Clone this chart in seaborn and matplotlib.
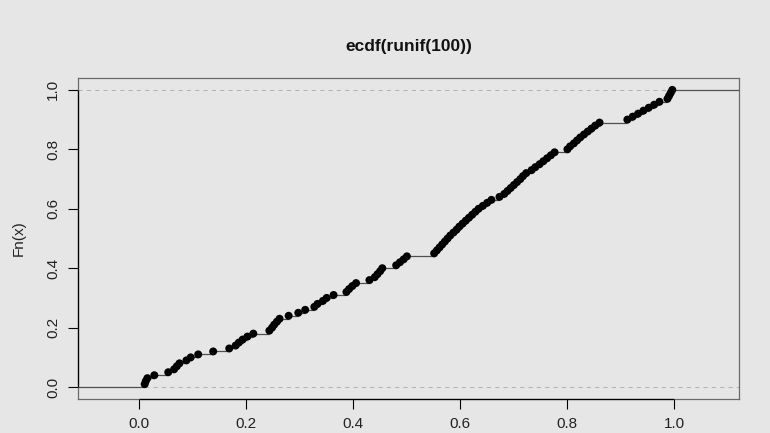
import numpy as np
import pandas as pd
import matplotlib
matplotlib.use("Agg")
import matplotlib.pyplot as plt
import seaborn as sns

# sorted sample values of the empirical CDF
sample = [
    0.010, 0.012, 0.015, 0.028, 0.054, 0.065, 0.070, 0.075, 0.088, 0.096,
    0.110, 0.138, 0.168, 0.180, 0.186, 0.193, 0.202, 0.213, 0.243, 0.248,
    0.252, 0.257, 0.262, 0.279, 0.297, 0.310, 0.327, 0.333, 0.343, 0.350,
    0.363, 0.387, 0.392, 0.398, 0.405, 0.430, 0.440, 0.445, 0.450, 0.454,
    0.480, 0.487, 0.494, 0.500, 0.551, 0.556, 0.561, 0.566, 0.571, 0.576,
    0.581, 0.587, 0.593, 0.598, 0.604, 0.610, 0.616, 0.622, 0.628, 0.634,
    0.642, 0.650, 0.658, 0.673, 0.682, 0.688, 0.694, 0.700, 0.706, 0.712,
    0.717, 0.723, 0.733, 0.740, 0.748, 0.755, 0.762, 0.769, 0.776, 0.800,
    0.805, 0.812, 0.818, 0.824, 0.831, 0.838, 0.845, 0.852, 0.860, 0.912,
    0.922, 0.932, 0.942, 0.952, 0.962, 0.972, 0.987, 0.990, 0.993, 0.996,
]
x_ticks = [0.0, 0.2, 0.4, 0.6, 0.8, 1.0]
y_ticks = [0.0, 0.2, 0.4, 0.6, 0.8, 1.0]
title = "ecdf(runif(100))"
y_label = "Fn(x)"

BG = "#e6e6e6"
sns.set_theme(style="white")
plt.rcParams["font.family"] = ["Liberation Sans", "DejaVu Sans"]

knots = np.sort(np.array(sample))
n = len(knots)
fn = np.arange(1, n + 1) / n
df = pd.DataFrame({"x": knots, "Fn": fn})

# limits the way plot.stepfun computes them, plus the usual 4% padding
rx = (knots.min(), knots.max())
dr = max(0.08 * (rx[1] - rx[0]), np.median(np.diff(knots)))
xl0 = (rx[0] - dr, rx[1] + dr)
pad = 0.04 * (xl0[1] - xl0[0])
xlim = (xl0[0] - pad, xl0[1] + pad)
ylim = (-0.04, 1.04)

W, H = 770, 433
box_l, box_r, box_t, box_b = 78, 739, 78, 399

fig = plt.figure(figsize=(W / 100, H / 100), dpi=100, facecolor=BG)
ax = fig.add_axes([box_l / W, 1 - box_b / H, (box_r - box_l) / W, (box_b - box_t) / H])
ax.set_facecolor(BG)

# reference lines at 0 and 1
for h in (0.0, 1.0):
    ax.axhline(h, color="#b3b3b3", lw=0.75, linestyle=(0, (4, 4)), zorder=1)

# horizontal steps (no verticals)
starts = np.concatenate([[xl0[0] - dr], knots])
ends = np.concatenate([knots, [xl0[1] + dr]])
levels = np.concatenate([[0.0], fn])
ax.hlines(levels, starts, ends, color="#505050", lw=0.9, zorder=2)

sns.scatterplot(data=df, x="x", y="Fn", ax=ax, color="black", s=33,
                linewidth=0, edgecolor="none", zorder=3, legend=False)

ax.set_xlim(*xlim)
ax.set_ylim(*ylim)
ax.set_xticks(x_ticks)
ax.set_xticklabels([f"{t:.1f}" for t in x_ticks])
ax.set_yticks(y_ticks)
ax.set_yticklabels([f"{t:.1f}" for t in y_ticks], rotation=90, va="center")
ax.set_xlabel("")
ax.set_ylabel("")

ax.tick_params(axis="both", which="major", direction="out", length=7,
               width=0.8, color="black", labelsize=11, labelcolor="#222222",
               bottom=True, left=True)
ax.tick_params(axis="x", pad=6)
ax.tick_params(axis="y", pad=6)

for s in ax.spines.values():
    s.set_visible(True)
    s.set_color("#6a6a6a")
    s.set_linewidth(0.9)

# axis lines spanning first to last tick
ax.plot([x_ticks[0], x_ticks[-1]], [ylim[0], ylim[0]], color="black",
        lw=0.9, clip_on=False, zorder=5, solid_capstyle="butt")
ax.plot([xlim[0], xlim[0]], [y_ticks[0], y_ticks[-1]], color="black",
        lw=0.9, clip_on=False, zorder=5, solid_capstyle="butt")

fig.text(19 / W, 1 - (box_t + box_b) / 2 / H, y_label, rotation=90,
         ha="center", va="center", fontsize=11, color="#222222")
fig.text((box_l + box_r) / 2 / W, 1 - 46 / H, title, ha="center",
         va="center", fontsize=12.5, fontweight="bold", color="#111111")

fig.savefig("out.png", dpi=100, facecolor=BG)
